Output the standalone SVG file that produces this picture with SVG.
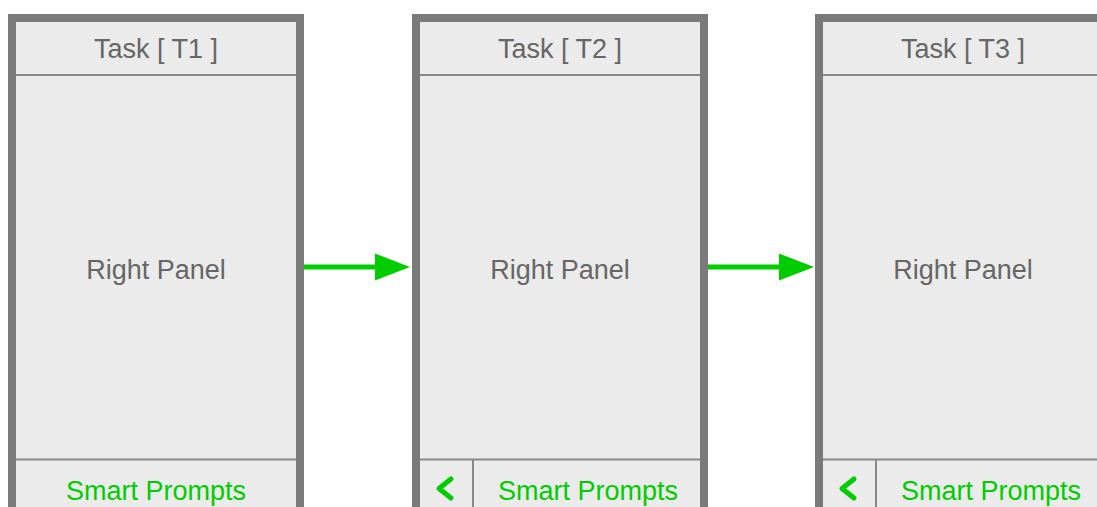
<svg xmlns="http://www.w3.org/2000/svg" width="1097" height="507" viewBox="0 0 1097 507">
<style>
.frame{fill:#ebebeb;stroke:#7a7a7a;stroke-width:8}
.div{stroke:#888;stroke-width:2}
.t{font-family:"Liberation Sans",Arial,sans-serif;font-size:27px;fill:#666;text-anchor:middle}
.g{fill:#00cc00}
.chev{fill:none;stroke:#00cc00;stroke-width:5;stroke-linecap:round;stroke-linejoin:round}
.conn{stroke:#00cc00;stroke-width:5;fill:none}
.head{fill:#00cc00}
</style>
<rect width="1097" height="507" fill="#fff"/>
<g id="panel1">
<rect class="frame" x="12" y="18" width="288" height="520"/>
<line class="div" x1="16" y1="75" x2="296" y2="75"/>
<line class="div" x1="16" y1="459.5" x2="296" y2="459.5"/>
<text class="t" x="156" y="57.5">Task [ T1 ]</text>
<text class="t" x="156" y="279">Right Panel</text>
<text class="t g" x="156" y="499.5">Smart Prompts</text>
</g>
<g id="panel2">
<rect class="frame" x="416" y="18" width="288" height="520"/>
<line class="div" x1="420" y1="75" x2="700" y2="75"/>
<line class="div" x1="420" y1="459.5" x2="700" y2="459.5"/>
<line class="div" x1="473" y1="459.5" x2="473" y2="507"/>
<polyline class="chev" points="451,479 439,488.5 451,498"/>
<text class="t" x="560" y="57.5">Task [ T2 ]</text>
<text class="t" x="560" y="279">Right Panel</text>
<text class="t g" x="588" y="499.5">Smart Prompts</text>
</g>
<g id="panel3">
<rect class="frame" x="819" y="18" width="288" height="520"/>
<line class="div" x1="823" y1="75" x2="1103" y2="75"/>
<line class="div" x1="823" y1="459.5" x2="1103" y2="459.5"/>
<line class="div" x1="876" y1="459.5" x2="876" y2="507"/>
<polyline class="chev" points="854,479 842,488.5 854,498"/>
<text class="t" x="963" y="57.5">Task [ T3 ]</text>
<text class="t" x="963" y="279">Right Panel</text>
<text class="t g" x="991" y="499.5">Smart Prompts</text>
</g>
<g id="connectors">
<line class="conn" x1="304" y1="267" x2="378" y2="267"/>
<path class="head" d="M375,253.5 L410,267 L375,280.5 Z"/>
<line class="conn" x1="708" y1="267" x2="782" y2="267"/>
<path class="head" d="M779,253.5 L814,267 L779,280.5 Z"/>
</g>
</svg>
